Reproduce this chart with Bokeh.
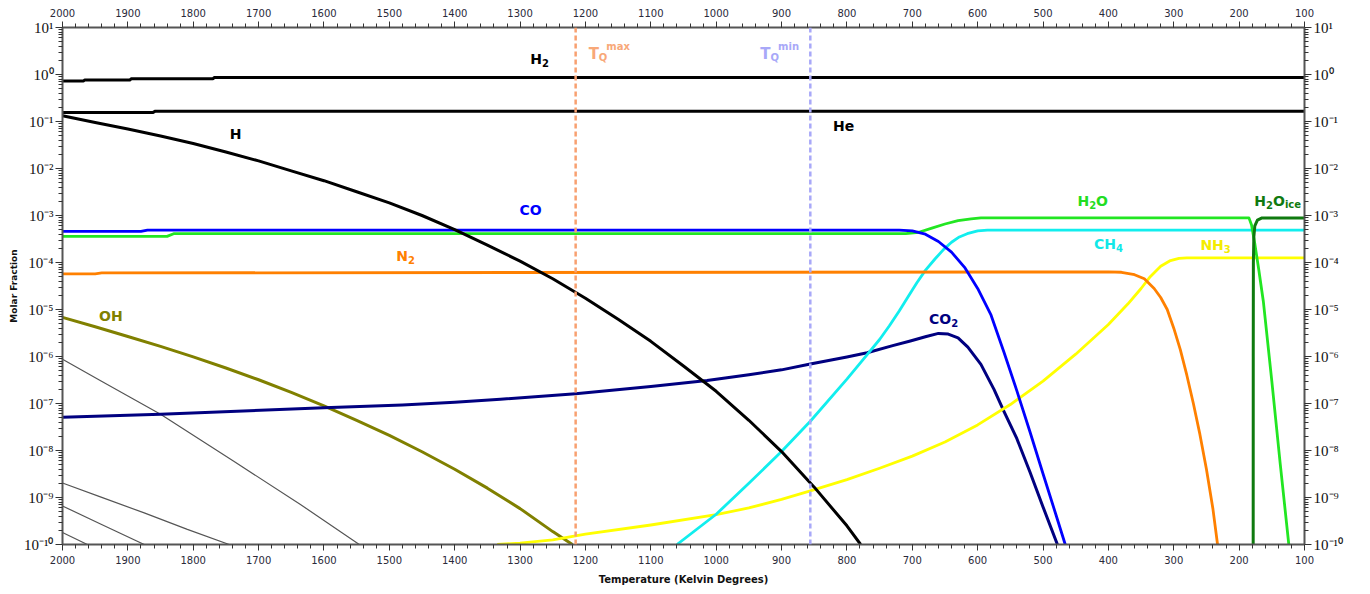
from bokeh.plotting import figure
from bokeh.models import (Range1d, LinearAxis, LogAxis, FixedTicker,
                          CustomJSTickFormatter, Span)
from bokeh.core.properties import value
from bokeh.embed import file_html
from bokeh.resources import INLINE

# ---------------- data (temperature in K, molar fraction) ----------------
x_ticks = list(range(100, 2001, 100))
x_minor = list(range(100, 2001, 20))
y_ticks = [10.0 ** e for e in range(-10, 2)]
y_minor = [m * 10.0 ** e for e in range(-10, 1) for m in range(2, 10)]

h2_T = [2000, 1968, 1966, 1897, 1895, 1770, 1768, 100]
h2_v = [0.73, 0.73, 0.76, 0.76, 0.81, 0.81, 0.86, 0.86]

he_T = [2000, 1862, 1858, 100]
he_v = [0.155, 0.155, 0.166, 0.166]

h_T = [2000, 1950, 1900, 1850, 1800, 1750, 1700, 1650, 1600, 1550, 1500, 1450, 1400,
       1350, 1300, 1250, 1200, 1150, 1100, 1050, 1000, 950, 900, 850, 800, 779]
h_v = [1.32e-1, 9.5e-2, 6.9e-2, 4.9e-2, 3.4e-2, 2.24e-2, 1.45e-2, 8.9e-3, 5.5e-3,
       3.2e-3, 1.86e-3, 1.0e-3, 5.0e-4, 2.34e-4, 1.07e-4, 4.5e-5, 1.74e-5, 6.2e-6,
       2.1e-6, 6.3e-7, 1.82e-7, 4.4e-8, 9.5e-9, 1.66e-9, 2.5e-10, 1.0e-10]

co_T = [2000, 1880, 1870, 750, 720, 700, 680, 660, 640, 620, 600, 580, 560, 540, 520,
        500, 480, 466]
co_v = [4.6e-4, 4.6e-4, 4.9e-4, 4.9e-4, 4.9e-4, 4.7e-4, 4.0e-4, 2.8e-4, 1.66e-4,
        7.9e-5, 2.8e-5, 7.9e-6, 1.26e-6, 1.86e-7, 2.5e-8, 3.2e-9, 4.2e-10, 1.0e-10]

h2o_T = [2000, 1840, 1830, 710, 690, 670, 650, 630, 610, 595, 185, 181, 176, 170,
         163, 150, 137, 124]
h2o_v = [3.6e-4, 3.6e-4, 4.1e-4, 4.1e-4, 4.4e-4, 5.4e-4, 6.6e-4, 7.8e-4, 8.5e-4,
         8.9e-4, 8.9e-4, 6.3e-4, 2.5e-4, 7.1e-5, 1.5e-5, 3.0e-7, 5.0e-9, 1.0e-10]

ice_T = [178.5, 178.4, 178.2, 177.5, 176.0, 172.0, 165.0, 100]
ice_v = [1.0e-10, 1.0e-6, 1.0e-4, 3.5e-4, 6.0e-4, 8.0e-4, 8.9e-4, 8.9e-4]

ch4_T = [1060, 1000, 950, 900, 856, 800, 775, 750, 735, 720, 705, 693, 680, 665, 652,
         640, 628, 616, 600, 585, 100]
ch4_v = [1.0e-10, 4.4e-10, 2.0e-9, 9.5e-9, 4.2e-8, 3.3e-7, 8.7e-7, 2.3e-6, 4.5e-6,
         9.3e-6, 2.0e-5, 3.7e-5, 6.8e-5, 1.2e-4, 1.9e-4, 2.7e-4, 3.5e-4, 4.1e-4,
         4.7e-4, 4.9e-4, 4.9e-4]

nh3_T = [1335, 1300, 1250, 1200, 1100, 1000, 950, 900, 856, 800, 750, 700, 650, 600,
         550, 500, 450, 400, 370, 350, 336, 320, 305, 292, 280, 100]
nh3_v = [1.0e-10, 1.07e-10, 1.26e-10, 1.66e-10, 2.6e-10, 4.3e-10, 6.0e-10, 9.1e-10,
         1.38e-9, 2.4e-9, 4.2e-9, 7.6e-9, 1.51e-8, 3.5e-8, 9.5e-8, 3.0e-7, 1.12e-6,
         4.8e-6, 1.32e-5, 2.8e-5, 5.0e-5, 8.3e-5, 1.1e-4, 1.23e-4, 1.26e-4, 1.26e-4]

n2_T = [2000, 1950, 1940, 400, 380, 360, 345, 330, 320, 310, 300, 290, 280, 270, 260,
        250, 240, 233]
n2_v = [5.75e-5, 5.75e-5, 6.0e-5, 6.3e-5, 6.2e-5, 5.5e-5, 4.5e-5, 2.8e-5, 1.8e-5,
        1.0e-5, 4.0e-6, 1.4e-6, 4.0e-7, 1.0e-7, 2.2e-8, 4.0e-9, 5.6e-10, 1.0e-10]

co2_T = [2000, 1850, 1600, 1480, 1400, 1330, 1215, 1100, 1014, 950, 900, 856, 800, 769,
         730, 703, 680, 660, 645, 630, 615, 595, 575, 560, 540, 520, 500, 478]
co2_v = [5.1e-8, 5.9e-8, 8.1e-8, 9.3e-8, 1.06e-7, 1.23e-7, 1.62e-7, 2.3e-7, 3.1e-7,
         4.1e-7, 5.2e-7, 6.9e-7, 9.8e-7, 1.2e-6, 1.7e-6, 2.14e-6, 2.63e-6, 3.1e-6,
         3.0e-6, 2.5e-6, 1.58e-6, 6.8e-7, 2.0e-7, 6.9e-8, 1.78e-8, 3.5e-9, 6.3e-10,
         1.0e-10]

oh_T = [2000, 1950, 1900, 1850, 1800, 1750, 1700, 1650, 1600, 1550, 1500, 1450, 1400,
        1350, 1300, 1250, 1220]
oh_v = [6.8e-6, 4.3e-6, 2.66e-6, 1.64e-6, 9.8e-7, 5.7e-7, 3.2e-7, 1.72e-7, 8.9e-8,
        4.4e-8, 2.1e-8, 9.4e-9, 4.0e-9, 1.58e-9, 5.8e-10, 1.88e-10, 1.0e-10]

minor1_T = [2000, 1941, 1850, 1738, 1636, 1546]
minor1_v = [8.7e-7, 3.0e-7, 5.9e-8, 5.9e-9, 7.1e-10, 1.0e-10]
minor2_T = [2000, 1941, 1875, 1809, 1745]
minor2_v = [2.04e-9, 1.02e-9, 4.7e-10, 2.1e-10, 1.0e-10]
minor3_T = [2000, 1941, 1875]
minor3_v = [6.6e-10, 2.7e-10, 1.0e-10]
minor4_T = [2000, 1962]
minor4_v = [1.8e-10, 1.0e-10]

TQ_max = 1215
TQ_min = 856

# species labels: pieces (text, kind) with kind n=normal, s=subscript, p=superscript
label_parts = [
    [("H", "n"), ("2", "s")],
    [("He", "n")],
    [("H", "n")],
    [("CO", "n")],
    [("N", "n"), ("2", "s")],
    [("OH", "n")],
    [("CO", "n"), ("2", "s")],
    [("H", "n"), ("2", "s"), ("O", "n")],
    [("CH", "n"), ("4", "s")],
    [("NH", "n"), ("3", "s")],
    [("H", "n"), ("2", "s"), ("O", "n"), ("ice", "s")],
]
label_T = [1270, 805, 1735, 1284, 1475, 1926, 652, 424, 400, 236, 141]
label_y = [1.95, 0.073, 0.049, 1.19e-3, 1.24e-4, 6.6e-6, 5.6e-6, 1.86e-3, 2.2e-4,
           2.1e-4, 1.87e-3]
label_col = ["black", "black", "black", "#0000FF", "#FF8000", "#808000", "#000080",
             "#22DD22", "#11E8E8", "#F4EC00", "#0F7A0F"]

# ---------------- figure ----------------
p = figure(frame_width=1242, frame_height=517,
           x_range=Range1d(2000, 100), y_range=Range1d(1e-10, 10),
           y_axis_type="log", output_backend="svg", toolbar_location=None,
           min_border_left=62, min_border_right=60, min_border_top=27,
           min_border_bottom=46, background_fill_color="white",
           border_fill_color="white")
p.outline_line_color = None
p.xgrid.visible = False
p.ygrid.visible = False

AX = "#555555"
sup_js = """
const sup = {"-": "\\u207b", "0": "\\u2070", "1": "\\u00b9", "2": "\\u00b2", "3": "\\u00b3",
             "4": "\\u2074", "5": "\\u2075", "6": "\\u2076", "7": "\\u2077", "8": "\\u2078",
             "9": "\\u2079"};
const e = Math.round(Math.log10(tick));
return "10" + String(e).split("").map(c => sup[c]).join("");
"""


def style_x(ax, standoff):
    ax.ticker = FixedTicker(ticks=x_ticks, minor_ticks=x_minor)
    ax.major_tick_in = 0
    ax.major_tick_out = 6
    ax.minor_tick_in = 0
    ax.minor_tick_out = 4
    ax.axis_line_color = AX
    ax.axis_line_width = 2
    ax.major_tick_line_color = "#333333"
    ax.minor_tick_line_color = "#333333"
    ax.major_label_text_font = "DejaVu Sans"
    ax.major_label_text_font_size = "10px"
    ax.major_label_text_color = "#2a2a3a"
    ax.major_label_standoff = standoff


def style_y(ax):
    ax.ticker = FixedTicker(ticks=y_ticks, minor_ticks=y_minor)
    ax.formatter = CustomJSTickFormatter(code=sup_js)
    ax.major_tick_in = 0
    ax.major_tick_out = 7
    ax.minor_tick_in = 0
    ax.minor_tick_out = 4
    ax.axis_line_color = AX
    ax.axis_line_width = 2
    ax.major_tick_line_color = "#333333"
    ax.minor_tick_line_color = "#333333"
    ax.major_label_text_font = "Liberation Serif"
    ax.major_label_text_font_size = "15px"
    ax.major_label_text_color = "#111111"
    ax.major_label_standoff = 2


xb = p.xaxis[0]
style_x(xb, 5)
xb.axis_label = "Temperature (Kelvin Degrees)"
xb.axis_label_text_font = "DejaVu Sans"
xb.axis_label_text_font_size = "10px"
xb.axis_label_text_font_style = "bold"
xb.axis_label_text_color = "#111111"
xb.axis_label_standoff = 7

xt = LinearAxis()
style_x(xt, 5)
p.add_layout(xt, "above")

yl = p.yaxis[0]
style_y(yl)
yl.axis_label = "Molar Fraction"
yl.axis_label_text_font = "DejaVu Sans"
yl.axis_label_text_font_size = "9px"
yl.axis_label_text_font_style = "bold"
yl.axis_label_text_color = "#111111"
yl.axis_label_standoff = 2

yr = LogAxis()
style_y(yr)
p.add_layout(yr, "right")

# ---------------- curves ----------------
for T, v in [(minor1_T, minor1_v), (minor2_T, minor2_v), (minor3_T, minor3_v), (minor4_T, minor4_v)]:
    p.line(T, v, line_color="#555555", line_width=1.2)

p.line(oh_T, oh_v, line_color="#808000", line_width=3, line_join="round")
p.line(co2_T, co2_v, line_color="#000080", line_width=3, line_join="round")
p.line(nh3_T, nh3_v, line_color="#FFFF00", line_width=2.8, line_join="round")
p.line(ch4_T, ch4_v, line_color="#11EEEE", line_width=2.8, line_join="round")
p.line(n2_T, n2_v, line_color="#FF8000", line_width=2.8, line_join="round")
p.line(h2o_T, h2o_v, line_color="#22E622", line_width=2.8, line_join="round")
p.line(co_T, co_v, line_color="#0000FF", line_width=2.8, line_join="round")
p.line(ice_T, ice_v, line_color="#0F7A0F", line_width=3, line_join="round")
p.line(h_T, h_v, line_color="black", line_width=3, line_join="round")
p.line(he_T, he_v, line_color="black", line_width=3)
p.line(h2_T, h2_v, line_color="black", line_width=3)

p.add_layout(Span(location=TQ_max, dimension="height", line_color="#F8A070",
                  line_width=2.5, line_dash="5 3"))
p.add_layout(Span(location=TQ_min, dimension="height", line_color="#A8A8F8",
                  line_width=2.5, line_dash="5 3"))

# ---------------- labels (pieces laid out in pixels around an anchor) ----------------
ADV = {"H": .837, "e": .678, "C": .734, "O": .850, "N": .837, "2": .696, "3": .696,
       "4": .696, "i": .343, "c": .593, "T": .682, "Q": .850, "m": 1.042, "a": .675,
       "x": .663, "n": .712}
SIZE = {"n": 14, "s": 10, "p": 10}
DY = {"n": -2, "s": 2, "p": -9}


def draw_label(parts, xT, yv, color, main_size=14, align="center", dx0=0):
    sizes = {"n": main_size, "s": SIZE["s"], "p": SIZE["p"]}
    widths = [sum(ADV.get(ch, 0.7) for ch in t) * sizes[k] for t, k in parts]
    x = dx0 - (sum(widths) / 2 if align == "center" else 0)
    for (t, k), w in zip(parts, widths):
        if k == "p":
            x -= 1
        p.text(x=[xT], y=[yv], text=[t], text_color=color,
               text_font=value("DejaVu Sans"), text_font_size=f"{sizes[k]}px",
               text_font_style="bold", text_align="left",
               text_baseline="alphabetic", x_offset=x, y_offset=DY[k])
        x += w


for parts, xT, yv, c in zip(label_parts, label_T, label_y, label_col):
    draw_label(parts, xT, yv, c)

tq_y = 2.5
draw_label([("T", "n"), ("Q", "s"), ("max", "p")], TQ_max, tq_y, "#F8A878",
           main_size=15, align="left", dx0=13)
draw_label([("T", "n"), ("Q", "s"), ("min", "p")], TQ_min, tq_y, "#A8A8F8",
           main_size=15, align="left", dx0=-50)

with open("out.html", "w", encoding="utf-8") as f:
    f.write(file_html(p, INLINE))
